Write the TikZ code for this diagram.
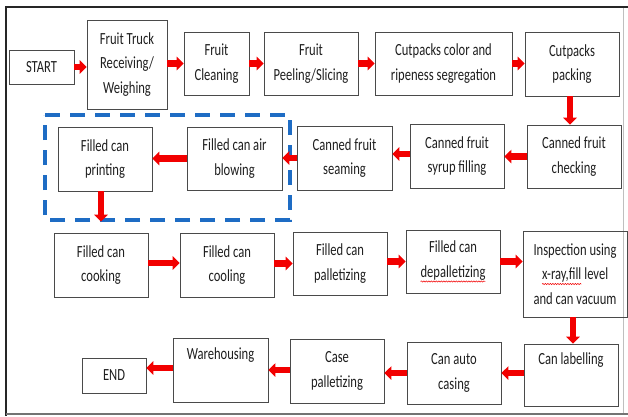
\documentclass[tikz,border=0pt]{standalone}
\usepackage{fontspec}
\setmainfont{Carlito}[FakeStretch=0.74]
\usetikzlibrary{arrows.meta,decorations.pathmorphing}
\definecolor{boxgray}{HTML}{4A4A4A}
\definecolor{txt}{HTML}{1E1E1E}
\definecolor{dashblue}{HTML}{1E6CC4}
\definecolor{arrred}{HTML}{F20000}
\newcommand{\squig}[1]{\tikz[baseline=(t.base)]{\node[draw=none,minimum width=0pt,minimum height=0pt,inner sep=0pt,outer sep=0pt,align=left] (t) {#1};\draw[arrred,line width=0.5pt,decorate,decoration={snake,amplitude=0.6pt,segment length=2.5pt}] ([yshift=-1.5pt]t.south west) -- ([yshift=-1.5pt]t.south east);}}
\begin{document}
\begin{tikzpicture}[x=1pt,y=-1pt,
  box/.style={draw=boxgray,line width=0.9pt,align=center,inner sep=0pt,text=txt,
    font=\fontsize{17}{24.5}\selectfont},
  flow/.style={arrred,line width=6.5pt,-{Triangle[length=7pt,width=13.5pt]}},
  frameline/.style={line width=2pt,draw=black!85}]
\useasboundingbox (0,0) rectangle (628,416);
% outer frame
\draw[frameline] (5,7) -- (628,7);
\draw[line width=2.5pt,draw=black!85] (6,6) -- (6,416);
\draw[line width=1.4pt,draw=black!55] (6,414) -- (628,414);
\draw[line width=0.8pt,draw=black!25] (623,8) -- (623,413);
% row 1
\node[box,minimum width=65pt,minimum height=34pt] (start) at (41.5,67) {START};
\node[box,minimum width=80pt,minimum height=89pt] (truck) at (127,64.5) {Fruit Truck\\Receiving/\\Weighing};
\node[box,minimum width=65pt,minimum height=63pt] (clean) at (216.5,63.5) {Fruit\\Cleaning};
\node[box,minimum width=94pt,minimum height=63pt] (peel) at (311,63.5) {Fruit\\Peeling/Slicing};
\node[box,minimum width=137pt,minimum height=63pt] (color) at (443.5,63.5) {Cutpacks color and\\ripeness segregation};
\node[box,minimum width=94pt,minimum height=64pt] (pack) at (572,64) {Cutpacks\\packing};
% row 2
\node[box,minimum width=94pt,minimum height=63pt] (check) at (574,156.5) {Canned fruit\\checking};
\node[box,minimum width=94pt,minimum height=64pt] (syrup) at (457,156) {Canned fruit\\syrup filling};
\node[box,minimum width=95pt,minimum height=64pt] (seam) at (344.5,158) {Canned fruit\\seaming};
\node[box,minimum width=95pt,minimum height=63pt] (air) at (234.5,158.5) {Filled can air\\blowing};
\node[box,minimum width=94pt,minimum height=64pt] (print) at (105,159) {Filled can\\printing};
% row 3
\node[box,minimum width=94pt,minimum height=64pt] (cook) at (101,265) {Filled can\\cooking};
\node[box,minimum width=94pt,minimum height=64pt] (cool) at (227,265) {Filled can\\cooling};
\node[box,minimum width=94pt,minimum height=63pt] (pall) at (340,263.5) {Filled can\\palletizing};
\node[box,minimum width=94pt,minimum height=63pt] (depall) at (453,261.5) {Filled can\\\squig{depalletizing}};
\node[box,minimum width=104pt,minimum height=86pt] (insp) at (575,274) {Inspection using\\\squig{x-ray,fill} level\\and can vacuum};
% row 4
\node[box,minimum width=94pt,minimum height=62pt] (label) at (571,375) {Can labelling\\\strut};
\node[box,minimum width=94pt,minimum height=62pt] (casing) at (454,373) {Can auto\\casing};
\node[box,minimum width=94pt,minimum height=64pt] (casepall) at (337,371) {Case\\palletizing};
\node[box,minimum width=95pt,minimum height=64pt] (ware) at (220.5,370) {Warehousing\\\strut};
\node[box,minimum width=64pt,minimum height=35pt] (end) at (114,375.5) {END};
% dashed group
\draw[dashblue,line width=3.5pt,dash pattern=on 15pt off 10pt] (45,115) -- (290,115) -- (290,220) -- (45,220) -- cycle;
% arrows row 1
\draw[flow] (start.east) -- (start.east -| truck.west);
\draw[flow] (truck.east |- clean.west) -- (clean.west);
\draw[flow] (clean.east) -- (clean.east -| peel.west);
\draw[flow] (peel.east) -- (peel.east -| color.west);
\draw[flow] (color.east) -- (color.east -| pack.west);
\draw[flow] ([xshift=-2pt]pack.south) -- ([xshift=-2pt]pack.south |- check.north);
% arrows row 2
\draw[flow] (check.west) -- (check.west -| syrup.east);
\draw[flow] ([yshift=2pt]syrup.west) -- ([yshift=2pt]syrup.west -| seam.east);
\draw[flow] (seam.west) -- (seam.west -| air.east);
\draw[flow] (air.west) -- (air.west -| print.east);
\draw[flow,shorten >=11pt] ([xshift=-4pt]print.south) -- ([xshift=-4pt]print.south |- cook.north);
% arrows row 3
\draw[flow] ([yshift=2pt]cook.east) -- ([yshift=2pt]cook.east -| cool.west);
\draw[flow] (cool.east |- pall.west) -- (pall.west);
\draw[flow] (pall.east |- depall.west) -- (depall.west);
\draw[flow] (depall.east) -- (depall.east -| insp.west);
\draw[flow] ([xshift=-2pt]insp.south) -- ([xshift=-2pt]insp.south |- label.north);
% arrows row 4
\draw[flow] (label.west |- casing.east) -- (casing.east);
\draw[flow] (casing.west) -- (casing.west -| casepall.east);
\draw[flow] (casepall.west |- ware.east) -- (ware.east);
\draw[flow] ([yshift=2pt]ware.west) -- ([yshift=2pt]ware.west -| end.east);
\end{tikzpicture}
\end{document}
